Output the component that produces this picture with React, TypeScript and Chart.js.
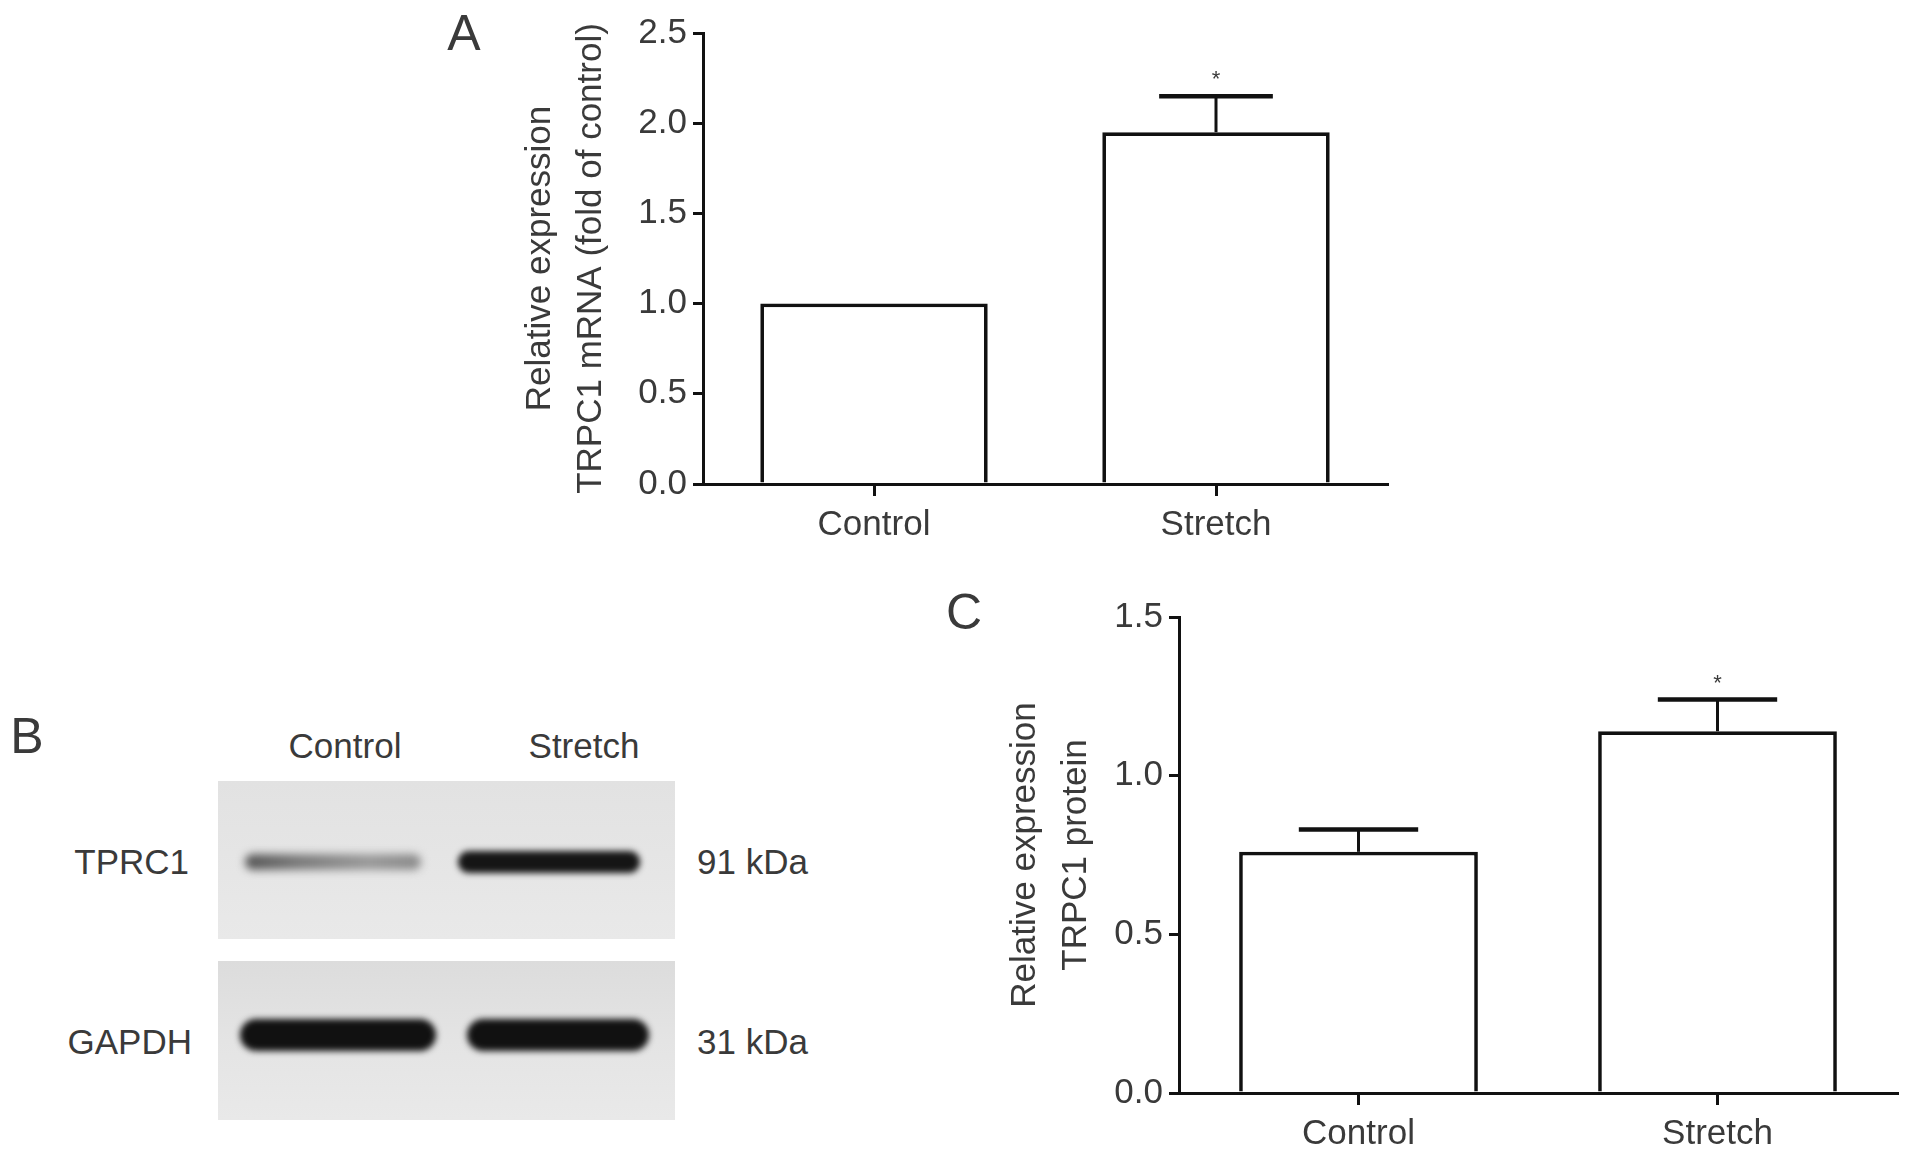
import React, { useEffect, useRef } from 'react';
import { Chart, registerables } from 'chart.js';

Chart.register(...registerables);

const categories = ['Control', 'Stretch'];
const mrnaMeans = [1.0, 1.95];
const mrnaErrors = [0, 0.2];
const mrnaStars = ['', '*'];
const mrnaMax = 2.5;
const proteinMeans = [0.76, 1.14];
const proteinErrors = [0.07, 0.1];
const proteinStars = ['', '*'];
const proteinMax = 1.5;
const tickStep = 0.5;
const mrnaTitle = ['Relative expression', 'TRPC1 mRNA (fold of control)'];
const proteinTitle = ['Relative expression', 'TRPC1 protein'];
const blotLanes = ['Control', 'Stretch'];
const blotRows = ['TPRC1', 'GAPDH'];
const blotSizes = ['91 kDa', '31 kDa'];

const FONT = '"Liberation Sans", Arial, Helvetica, sans-serif';
const TEXT = '#3a3a3a';

const errorBarPlugin = {
  id: 'errorBars',
  afterDatasetsDraw(chart: any, _args: any, opts: any) {
    const { ctx } = chart;
    const meta = chart.getDatasetMeta(0);
    const yScale = chart.scales.y;
    const means: number[] = opts.means;
    const errs: number[] = opts.errors;
    const stars: string[] = opts.stars;
    ctx.save();
    meta.data.forEach((bar: any, i: number) => {
      const x = bar.x;
      const y0 = yScale.getPixelForValue(means[i]);
      const y1 = yScale.getPixelForValue(means[i] + errs[i]);
      const half = bar.width * 0.25;
      if (errs[i] > 0) {
        ctx.strokeStyle = '#111';
        ctx.lineWidth = 3;
        ctx.beginPath();
        ctx.moveTo(x, y0);
        ctx.lineTo(x, y1);
        ctx.stroke();
        ctx.lineWidth = 4.5;
        ctx.beginPath();
        ctx.moveTo(x - half, y1);
        ctx.lineTo(x + half, y1);
        ctx.stroke();
      }
      if (stars[i]) {
        ctx.fillStyle = TEXT;
        ctx.font = `22px ${FONT}`;
        ctx.textAlign = 'center';
        ctx.textBaseline = 'middle';
        ctx.fillText(stars[i], x, y1 - 16);
      }
    });
    ctx.restore();
  },
};

function BarPanel(props: {
  left: number; top: number; width: number; height: number;
  means: number[]; errors: number[]; stars: string[]; max: number;
  title: string[]; padTop: number; padRight: number; yWidth: number; xHeight: number; titlePad: number;
}) {
  const ref = useRef<HTMLCanvasElement>(null);
  useEffect(() => {
    const canvas = ref.current!;
    const chart = new Chart(canvas, {
      type: 'bar',
      data: {
        labels: categories,
        datasets: [{
          data: props.means,
          backgroundColor: '#ffffff',
          borderColor: '#111',
          borderWidth: 3.7,
          borderSkipped: 'bottom',
          categoryPercentage: 1,
          barPercentage: 0.665,
        }],
      },
      options: {
        animation: false,
        responsive: false,
        maintainAspectRatio: false,
        devicePixelRatio: 1,
        layout: { padding: { top: props.padTop, right: props.padRight, left: 0, bottom: 0 } },
        plugins: {
          legend: { display: false },
          tooltip: { enabled: false },
          errorBars: { means: props.means, errors: props.errors, stars: props.stars },
        } as any,
        scales: {
          x: {
            type: 'category',
            offset: true,
            grid: { offset: false, display: true, drawOnChartArea: false, drawTicks: true, tickLength: 12, color: '#111', lineWidth: 3 },
            border: { display: true, color: '#111', width: 3 },
            ticks: { color: TEXT, font: { family: FONT, size: 35 }, padding: 8 },
            afterFit: (s: any) => { s.height = props.xHeight; },
          },
          y: {
            min: 0,
            max: props.max,
            ticks: { stepSize: tickStep, color: TEXT, font: { family: FONT, size: 35 }, padding: 6, callback: (v: any) => Number(v).toFixed(1) },
            grid: { display: true, drawOnChartArea: false, drawTicks: true, tickLength: 10, color: '#111', lineWidth: 3 },
            border: { display: true, color: '#111', width: 3 },
            title: { display: true, text: props.title, color: TEXT, font: { family: FONT, size: 35, lineHeight: 1.45 }, padding: { top: props.titlePad, bottom: 0 } },
            afterFit: (s: any) => { s.width = props.yWidth; },
          },
        },
      } as any,
      plugins: [errorBarPlugin],
    });
    return () => chart.destroy();
  }, []);
  return (
    <canvas
      ref={ref}
      width={props.width}
      height={props.height}
      style={{ position: 'absolute', left: props.left, top: props.top, width: props.width, height: props.height }}
    />
  );
}

const label = (text: string, style: React.CSSProperties) => (
  <div style={{ position: 'absolute', fontFamily: FONT, color: TEXT, whiteSpace: 'nowrap', lineHeight: 1, ...style }}>{text}</div>
);

function Band(props: { left: number; top: number; width: number; height: number; color: string; blur: number; gradient?: string }) {
  return (
    <div style={{
      position: 'absolute', left: props.left, top: props.top, width: props.width, height: props.height,
      background: props.gradient || props.color, borderRadius: props.height / 2, filter: `blur(${props.blur}px)`,
    }} />
  );
}

function Blot() {
  return (
    <div style={{ position: 'absolute', left: 0, top: 0 }}>
      {label(blotLanes[0], { left: 345, top: 745, fontSize: 35, transform: 'translate(-50%,-50%)' })}
      {label(blotLanes[1], { left: 584, top: 745, fontSize: 35, transform: 'translate(-50%,-50%)' })}
      <div style={{ position: 'absolute', left: 218, top: 781, width: 457, height: 158, background: 'linear-gradient(180deg,#e2e2e2,#e6e6e6 60%,#e9e9e9)', overflow: 'hidden' }}>
        <Band left={27} top={73} width={176} height={16} color="#777" blur={4}
          gradient="linear-gradient(90deg,#555,#7a7a7a 30%,#999 70%,#8a8a8a)" />
        <Band left={240} top={70} width={182} height={22} color="#151515" blur={3} />
      </div>
      <div style={{ position: 'absolute', left: 218, top: 961, width: 457, height: 159, background: 'linear-gradient(180deg,#dcdcdc,#e4e4e4 50%,#e9e9e9)', overflow: 'hidden' }}>
        <Band left={22} top={58} width={196} height={32} color="#111" blur={3} />
        <Band left={249} top={58} width={182} height={32} color="#111" blur={3} />
      </div>
      {label(blotRows[0], { left: 189, top: 861, fontSize: 35, transform: 'translate(-100%,-50%)' })}
      {label(blotRows[1], { left: 192, top: 1041, fontSize: 35, transform: 'translate(-100%,-50%)' })}
      {label(blotSizes[0], { left: 697, top: 861, fontSize: 35, transform: 'translate(0,-50%)' })}
      {label(blotSizes[1], { left: 697, top: 1041, fontSize: 35, transform: 'translate(0,-50%)' })}
    </div>
  );
}

export default function App() {
  return (
    <div style={{ position: 'absolute', left: 0, top: 0, width: 1913, height: 1162, background: '#fff', overflow: 'hidden' }}>
      {label('A', { left: 464, top: 33, fontSize: 50, transform: 'translate(-50%,-50%)' })}
      {label('B', { left: 27, top: 736, fontSize: 50, transform: 'translate(-50%,-50%)' })}
      {label('C', { left: 964, top: 612, fontSize: 50, transform: 'translate(-50%,-50%)' })}
      <BarPanel left={480} top={0} width={930} height={560}
        means={mrnaMeans} errors={mrnaErrors} stars={mrnaStars} max={mrnaMax} title={mrnaTitle}
        padTop={33} padRight={23} yWidth={223} xHeight={76} titlePad={35} />
      <BarPanel left={950} top={560} width={963} height={602}
        means={proteinMeans} errors={proteinErrors} stars={proteinStars} max={proteinMax} title={proteinTitle}
        padTop={57} padRight={16} yWidth={229} xHeight={69} titlePad={50} />
      <Blot />
    </div>
  );
}
